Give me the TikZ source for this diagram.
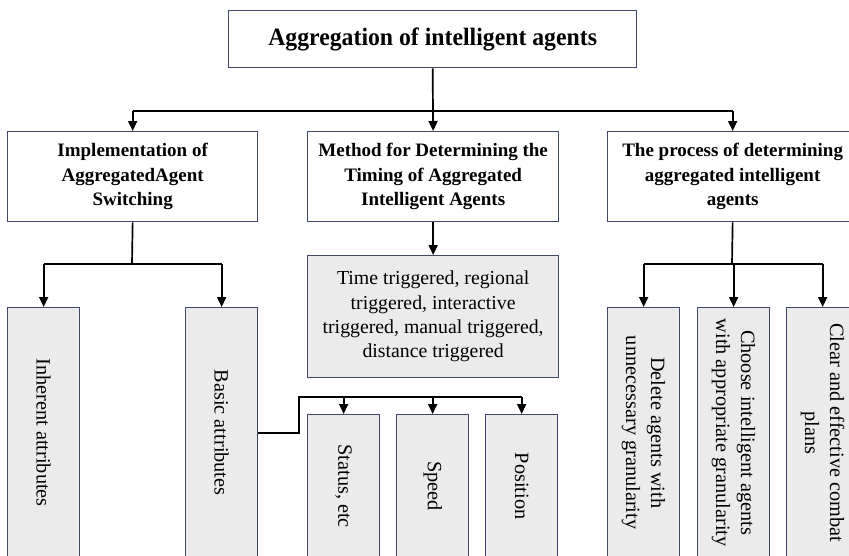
\documentclass[tikz,border=0pt]{standalone}
\usepackage{fontspec}
\setmainfont{Liberation Serif}
\usetikzlibrary{arrows.meta}
\definecolor{bordercol}{RGB}{64,72,104}
\definecolor{boxgray}{RGB}{235,235,235}
\begin{document}
\begin{tikzpicture}[x=1pt,y=-1pt,
  box/.style={draw=bordercol,line width=1.3pt,rectangle,anchor=north west,inner sep=0pt,align=center},
  gbox/.style={box,fill=boxgray},
  conn/.style={line width=1.7pt,black},
  arr/.style={conn,-{Triangle[length=10pt,width=9pt]}},
  headfont/.style={font=\fontsize{19}{24.5}\selectfont\bfseries},
  bodyfont/.style={font=\fontsize{19.8}{24.3}\selectfont},
  vertfont/.style={font=\fontsize{20.3}{25}\selectfont}]
\useasboundingbox (0,0) rectangle (849,555);
% top
\node[box,minimum width=408pt,minimum height=57pt] (title) at (228,10)
  {\fontsize{25}{30}\selectfont\bfseries\scalebox{0.95}[1]{Aggregation of intelligent agents}};
% level 2
\node[box,headfont,minimum width=250pt,minimum height=90pt] (L) at (7,131)
  {Implementation of\\AggregatedAgent\\Switching};
\node[box,headfont,minimum width=251pt,minimum height=90pt] (M) at (307,131)
  {Method for Determining the\\Timing of Aggregated\\Intelligent Agents};
\node[box,headfont,minimum width=250pt,minimum height=90pt] (R) at (607,131)
  {The process of determining\\aggregated intelligent\\agents};
% middle detail
\node[gbox,bodyfont,minimum width=251pt,minimum height=122pt] (T) at (307,255)
  {Time triggered, regional\\triggered, interactive\\triggered, manual triggered,\\distance triggered};
% tall boxes
\node[gbox,vertfont,minimum width=72pt,minimum height=250pt] (Inh) at (7,307)
  {\rotatebox{-90}{Inherent attributes}};
\node[gbox,vertfont,minimum width=72pt,minimum height=250pt] (Bas) at (185,307)
  {\rotatebox{-90}{Basic attributes}};
\node[gbox,vertfont,minimum width=72pt,minimum height=143pt] (Sta) at (307,414)
  {\rotatebox{-90}{Status, etc}};
\node[gbox,vertfont,minimum width=72pt,minimum height=143pt] (Spe) at (396,414)
  {\rotatebox{-90}{Speed}};
\node[gbox,vertfont,minimum width=72pt,minimum height=143pt] (Pos) at (485,414)
  {\rotatebox{-90}{Position}};
\node[gbox,vertfont,minimum width=72pt,minimum height=250pt] (Del) at (607,307)
  {\rotatebox{-90}{\begin{tabular}{@{}c@{}}Delete agents with\\unnecessary granularity\end{tabular}}};
\node[gbox,vertfont,minimum width=72pt,minimum height=250pt] (Cho) at (697,307)
  {\rotatebox{-90}{\begin{tabular}{@{}c@{}}Choose intelligent agents\\with appropriate granularity\end{tabular}}};
\node[gbox,vertfont,minimum width=72pt,minimum height=250pt] (Cle) at (786,307)
  {\rotatebox{-90}{\begin{tabular}{@{}c@{}}Clear and effective combat\\plans\end{tabular}}};
% connectors top
\coordinate (bar) at (432,111);
\draw[arr] (title.south) -- (M.north);
\draw[conn] (L.north |- bar) -- (R.north |- bar);
\draw[arr] (L.north |- bar) -- (L.north);
\draw[arr] (R.north |- bar) -- (R.north);
% left branch
\coordinate (lbar) at (132,264);
\draw[conn] (L.south) -- (lbar);
\draw[conn] (Inh.north |- lbar) -- (Bas.north |- lbar);
\draw[arr] (Inh.north |- lbar) -- (Inh.north);
\draw[arr] (Bas.north |- lbar) -- (Bas.north);
% middle branch
\draw[arr] (M.south) -- (T.north);
% basic attributes branch
\coordinate (bj) at (299,397);
\draw[conn] (Bas.east) -| (bj) -- (Pos.north |- bj);
\draw[arr] (Sta.north |- bj) -- (Sta.north);
\draw[arr] (Spe.north |- bj) -- (Spe.north);
\draw[arr] (Pos.north |- bj) -- (Pos.north);
% right branch
\coordinate (rbar) at (732,264);
\draw[conn] (R.south) -- (rbar);
\draw[conn] (Del.north |- rbar) -- (Cle.north |- rbar);
\draw[arr] (Del.north |- rbar) -- (Del.north);
\draw[arr] (Cho.north |- rbar) -- (Cho.north);
\draw[arr] (Cle.north |- rbar) -- (Cle.north);
\end{tikzpicture}
\end{document}
